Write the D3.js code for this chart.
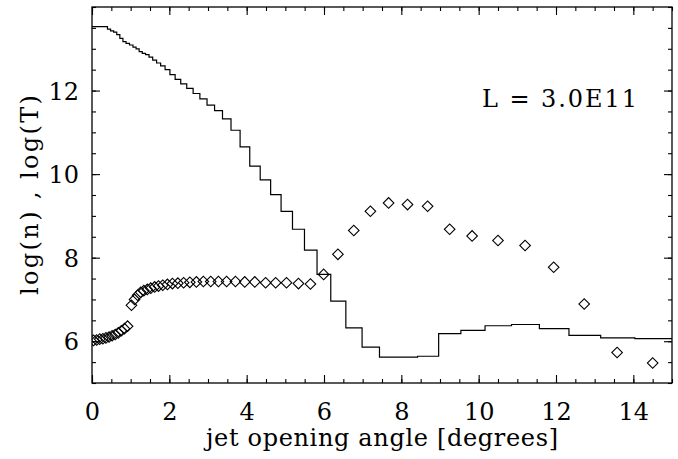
<!DOCTYPE html>
<html>
<head>
<meta charset="utf-8">
<script src="https://cdn.jsdelivr.net/npm/d3@7"></script>
<style>
  body { margin: 0; background: #fff; }
  #chart text { font-family: "DejaVu Serif", serif; }
</style>
</head>
<body>
<svg id="chart" width="678" height="459"></svg>
<script>
// Bin centres of the jet opening angle [degrees]
const angle = [
  0.04, 0.12, 0.20, 0.28, 0.36, 0.44, 0.52, 0.60, 0.68, 0.76, 0.84, 0.92,
  1.02, 1.10, 1.18, 1.26, 1.34, 1.43, 1.52, 1.62, 1.72, 1.83, 1.95,
  2.08, 2.22, 2.37, 2.53, 2.70, 2.88, 3.07, 3.27, 3.48, 3.71, 3.95,
  4.21, 4.49, 4.75, 5.03, 5.34, 5.65, 5.99, 6.36, 6.77, 7.20, 7.67,
  8.16, 8.68, 9.25, 9.83, 10.50, 11.20, 11.94, 12.73, 13.58, 14.50
];

// log(n) per bin, drawn as a histogram-style step line
const logN = [
  13.53, 13.53, 13.53, 13.53, 13.53, 13.47, 13.43, 13.40, 13.34, 13.25, 13.17, 13.13,
  13.09, 13.04, 13.00, 12.93, 12.89, 12.86, 12.80, 12.73, 12.66, 12.59, 12.50,
  12.38, 12.27, 12.16, 12.05, 11.93, 11.80, 11.65, 11.52, 11.32, 11.05, 10.65,
  10.19, 9.86, 9.51, 9.11, 8.68, 8.18, 7.60, 6.96, 6.32, 5.86, 5.62,
  5.62, 5.64, 6.18, 6.26, 6.37, 6.40, 6.30, 6.14, 6.08, 6.06
];

// log(T) per bin, drawn as open diamonds
const logT = [
  6.02, 6.03, 6.05, 6.06, 6.08, 6.10, 6.13, 6.16, 6.20, 6.25, 6.30, 6.36,
  6.86, 7.00, 7.10, 7.17, 7.21, 7.24, 7.27, 7.30, 7.32, 7.34, 7.36,
  7.38, 7.39, 7.40, 7.41, 7.42, 7.43, 7.43, 7.43, 7.43, 7.43, 7.42,
  7.42, 7.40, 7.40, 7.40, 7.38, 7.37, 7.60, 8.08, 8.65, 9.11, 9.31,
  9.27, 9.23, 8.68, 8.52, 8.41, 8.29, 7.77, 6.89, 5.73, 5.48
];

const xMajorTicks = [0, 2, 4, 6, 8, 10, 12, 14];
const yMajorTicks = [6, 8, 10, 12];
const xTitle = "jet opening angle [degrees]";
const yTitle = "log(n) , log(T)";
const annotation = "L = 3.0E11";

const margin = { left: 92, right: 6, top: 7, bottom: 76 };
const W = 678, H = 459;
const x0 = margin.left, x1 = W - margin.right;
const y0 = H - margin.bottom, y1 = margin.top;

const x = d3.scaleLinear().domain([0, 15]).range([x0, x1]);
const y = d3.scaleLinear().domain([5, 14]).range([y0, y1]);

const svg = d3.select("#chart");

const minorX = d3.range(0, 15.01, 0.5);
const minorY = d3.range(5, 14.01, 0.5);

function tickAxis(axis, tf, cls) {
  const g = svg.append("g").attr("class", cls).attr("transform", tf).call(axis);
  g.select(".domain").remove();
  g.attr("font-family", null).attr("font-size", null);
  g.selectAll(".tick line").attr("stroke", "#000").attr("stroke-width", 1.1);
  return g;
}

// Minor ticks on all four sides
tickAxis(d3.axisBottom(x).tickValues(minorX).tickSize(-4).tickFormat(""), `translate(0,${y0})`, "minor");
tickAxis(d3.axisTop(x).tickValues(minorX).tickSize(-4).tickFormat(""), `translate(0,${y1})`, "minor");
tickAxis(d3.axisLeft(y).tickValues(minorY).tickSize(-4).tickFormat(""), `translate(${x0},0)`, "minor");
tickAxis(d3.axisRight(y).tickValues(minorY).tickSize(-4).tickFormat(""), `translate(${x1},0)`, "minor");

// Major ticks with labels on bottom and left
const gx = tickAxis(d3.axisBottom(x).tickValues(xMajorTicks).tickSize(-8).tickPadding(0).tickFormat(d3.format("d")),
  `translate(0,${y0})`, "major");
gx.selectAll("text").attr("y", 37).attr("dy", null)
  .style("font-size", "24px").attr("fill", "#000");

tickAxis(d3.axisTop(x).tickValues(xMajorTicks).tickSize(-8).tickFormat(""), `translate(0,${y1})`, "major");

const gy = tickAxis(d3.axisLeft(y).tickValues(yMajorTicks).tickSize(-8).tickPadding(0).tickFormat(d3.format("d")),
  `translate(${x0},0)`, "major");
gy.selectAll("text").attr("x", -13).attr("dy", "0.36em")
  .style("font-size", "24px").attr("fill", "#000");

tickAxis(d3.axisRight(y).tickValues(yMajorTicks).tickSize(-8).tickFormat(""), `translate(${x1},0)`, "major");

// Plot frame
svg.append("rect")
  .attr("x", x0).attr("y", y1)
  .attr("width", x1 - x0).attr("height", y0 - y1)
  .attr("fill", "none").attr("stroke", "#000").attr("stroke-width", 1.3);

svg.append("clipPath").attr("id", "plot-clip")
  .append("rect").attr("x", x0).attr("y", y1).attr("width", x1 - x0).attr("height", y0 - y1);

const plot = svg.append("g").attr("clip-path", "url(#plot-clip)");

// Density step line, extended to both ends of the angle range
const stepPts = [[0, logN[0]]]
  .concat(angle.map((a, i) => [a, logN[i]]))
  .concat([[15, logN[logN.length - 1]]]);

plot.append("path")
  .datum(stepPts)
  .attr("fill", "none")
  .attr("stroke", "#000")
  .attr("stroke-width", 1.2)
  .attr("d", d3.line().x(d => x(d[0])).y(d => y(d[1])).curve(d3.curveStep));

// Temperature diamonds
const diamond = d3.symbol().type(d3.symbolSquare).size(56);
plot.selectAll("path.temp")
  .data(angle.map((a, i) => [a, logT[i]]))
  .join("path")
  .attr("class", "temp")
  .attr("d", diamond)
  .attr("transform", d => `translate(${x(d[0])},${y(d[1])}) rotate(45)`)
  .attr("fill", "none")
  .attr("stroke", "#000")
  .attr("stroke-width", 1.1);

// Axis titles
svg.append("text")
  .attr("x", (x0 + x1) / 2).attr("y", 446)
  .attr("text-anchor", "middle")
  .style("font-size", "24px")
  .attr("textLength", 352).attr("lengthAdjust", "spacing")
  .text(xTitle);

svg.append("text")
  .attr("transform", `translate(38,${(y0 + y1) / 2}) rotate(-90)`)
  .attr("text-anchor", "middle")
  .style("font-size", "24px")
  .attr("textLength", 200).attr("lengthAdjust", "spacing")
  .style("white-space", "pre")
  .text(yTitle);

// Luminosity annotation
svg.append("text")
  .attr("x", 482).attr("y", 107)
  .style("font-size", "24px")
  .attr("textLength", 155).attr("lengthAdjust", "spacing")
  .style("white-space", "pre")
  .text(annotation);
</script>
</body>
</html>
